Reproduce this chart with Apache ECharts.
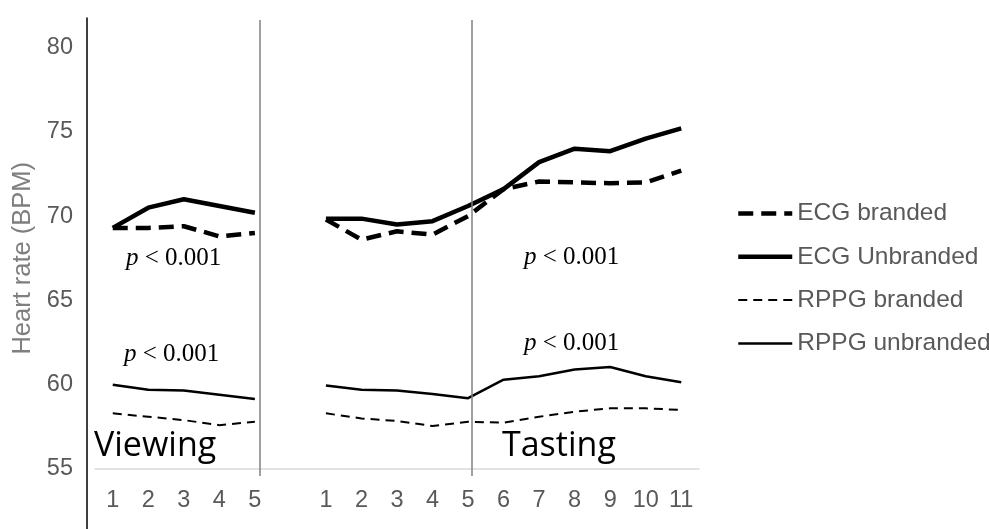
<!DOCTYPE html>
<html>
<head>
<meta charset="utf-8">
<script src="https://cdn.jsdelivr.net/npm/echarts@6/dist/echarts.min.js"></script>
<style>
  html, body { margin: 0; padding: 0; background: #ffffff; }
  #chart { width: 989px; height: 529px; }
</style>
</head>
<body>
<div id="chart"></div>
<script>
// ---- data ----
const viewingCategories = ['1', '2', '3', '4', '5'];
const tastingCategories = ['1', '2', '3', '4', '5', '6', '7', '8', '9', '10', '11'];
const yTicks = [55, 60, 65, 70, 75, 80];

const ecgBrandedViewing    = [69.3, 69.3, 69.4, 68.8, 69.0];
const ecgUnbrandedViewing  = [69.3, 70.5, 71.0, 70.6, 70.2];
const rppgBrandedViewing   = [58.3, 58.1, 57.9, 57.6, 57.8];
const rppgUnbrandedViewing = [60.0, 59.7, 59.65, 59.4, 59.15];

const ecgBrandedTasting    = [69.8, 68.6, 69.1, 68.9, 70.0, 71.6, 72.05, 72.0, 71.95, 72.0, 72.7];
const ecgUnbrandedTasting  = [69.85, 69.85, 69.5, 69.7, 70.6, 71.6, 73.2, 74.0, 73.85, 74.6, 75.2];
const rppgBrandedTasting   = [58.3, 58.0, 57.85, 57.55, 57.8, 57.75, 58.1, 58.4, 58.6, 58.6, 58.5];
const rppgUnbrandedTasting = [59.95, 59.7, 59.65, 59.45, 59.2, 60.3, 60.5, 60.9, 61.05, 60.5, 60.15];

const seriesNames = ['ECG branded', 'ECG Unbranded', 'RPPG branded', 'RPPG unbranded'];
const phaseLabels = ['Viewing', 'Tasting'];

// ---- build ----
const categories = viewingCategories.concat([''], tastingCategories);
function join(v, t) { return v.concat([null], t); }

const styles = [
  { width: 4.5, type: [15, 8] },
  { width: 4.5, type: 'solid' },
  { width: 2, type: [9, 6] },
  { width: 2.5, type: 'solid' }
];
const datasets = [
  join(ecgBrandedViewing, ecgBrandedTasting),
  join(ecgUnbrandedViewing, ecgUnbrandedTasting),
  join(rppgBrandedViewing, rppgBrandedTasting),
  join(rppgUnbrandedViewing, rppgUnbrandedTasting)
];

const series = seriesNames.map((name, i) => ({
  name: name,
  type: 'line',
  xAxisIndex: 0,
  yAxisIndex: 0,
  data: datasets[i],
  symbol: 'none',
  connectNulls: false,
  silent: true,
  z: 4 - i,
  itemStyle: { color: '#000' },
  lineStyle: { color: '#000', width: styles[i].width, type: styles[i].type, cap: 'butt', join: 'round' }
}));

// separators (decorative vertical lines)
series.push({
  type: 'line',
  xAxisIndex: 2,
  yAxisIndex: 2,
  data: [],
  silent: true,
  markLine: {
    silent: true,
    symbol: 'none',
    label: { show: false },
    lineStyle: { color: '#808080', width: 1.5, type: 'solid' },
    data: [{ xAxis: 4.64 }, { xAxis: 10.6 }]
  }
});

const serif = "'Liberation Serif', 'DejaVu Serif', serif";
function pText(left, top) {
  return {
    type: 'text', left: left, top: top,
    style: {
      text: '{i|p} {r|< 0.001}',
      rich: {
        i: { fontFamily: serif, fontStyle: 'italic', fontSize: 25, fill: '#000' },
        r: { fontFamily: serif, fontSize: 25, fill: '#000' }
      },
      fill: '#000', fontFamily: serif, fontSize: 25
    }
  };
}

const option = {
  animation: false,
  backgroundColor: '#ffffff',
  textStyle: { fontFamily: "'Liberation Sans', Arial, sans-serif" },
  grid: [
    { left: 95, right: 290, top: 47.5, bottom: 60 },
    { left: 87, top: 18, bottom: 0, width: 1 },
    { left: 95, right: 290, top: 20, bottom: 53 }
  ],
  xAxis: [
    {
      type: 'category', gridIndex: 0, data: categories, boundaryGap: true,
      axisLine: { show: true, lineStyle: { color: '#d9d9d9', width: 1.5 } },
      axisTick: { show: false },
      splitLine: { show: false },
      axisLabel: { interval: 0, color: '#595959', fontSize: 23.5, margin: 20 }
    },
    { type: 'value', gridIndex: 1, show: false, min: 0, max: 1 },
    { type: 'value', gridIndex: 2, show: false, min: 0, max: 17 }
  ],
  yAxis: [
    {
      type: 'value', gridIndex: 0, min: yTicks[0], max: yTicks[yTicks.length - 1], interval: 5,
      axisLine: { show: false }, axisTick: { show: false }, splitLine: { show: false },
      axisLabel: { color: '#595959', fontSize: 23.5, margin: 22 },
      name: 'Heart rate (BPM)', nameLocation: 'middle', nameGap: 58,
      nameTextStyle: { color: '#7f7f7f', fontSize: 25.5 }
    },
    {
      type: 'value', gridIndex: 1, min: 0, max: 1,
      axisLine: { show: true, lineStyle: { color: '#000', width: 1.5 } },
      axisTick: { show: false }, axisLabel: { show: false }, splitLine: { show: false }
    },
    { type: 'value', gridIndex: 2, show: false, min: 0, max: 1 }
  ],
  legend: {
    data: seriesNames,
    orient: 'vertical',
    left: 731, top: 196,
    itemWidth: 54, itemHeight: 14, itemGap: 18.3,
    selectedMode: false,
    textStyle: { color: '#595959', fontSize: 24.5 },
    itemStyle: { color: 'rgba(0,0,0,0)', borderWidth: 0, opacity: 0 },
    lineStyle: { width: 'inherit', type: 'inherit', color: '#000' }
  },
  graphic: [
    pText(126, 246),
    pText(124, 342),
    pText(524, 245),
    pText(524, 331),
    { type: 'text', left: 94, top: 429,
      style: { text: phaseLabels[0], fontFamily: "'Open Sans', sans-serif", fontSize: 34, fill: '#000' } },
    { type: 'text', left: 502, top: 429,
      style: { text: phaseLabels[1], fontFamily: "'Open Sans', sans-serif", fontSize: 34, fill: '#000' } }
  ],
  series: series
};

const chart = echarts.init(document.getElementById('chart'), null, { renderer: 'canvas' });
chart.setOption(option);
</script>
</body>
</html>
